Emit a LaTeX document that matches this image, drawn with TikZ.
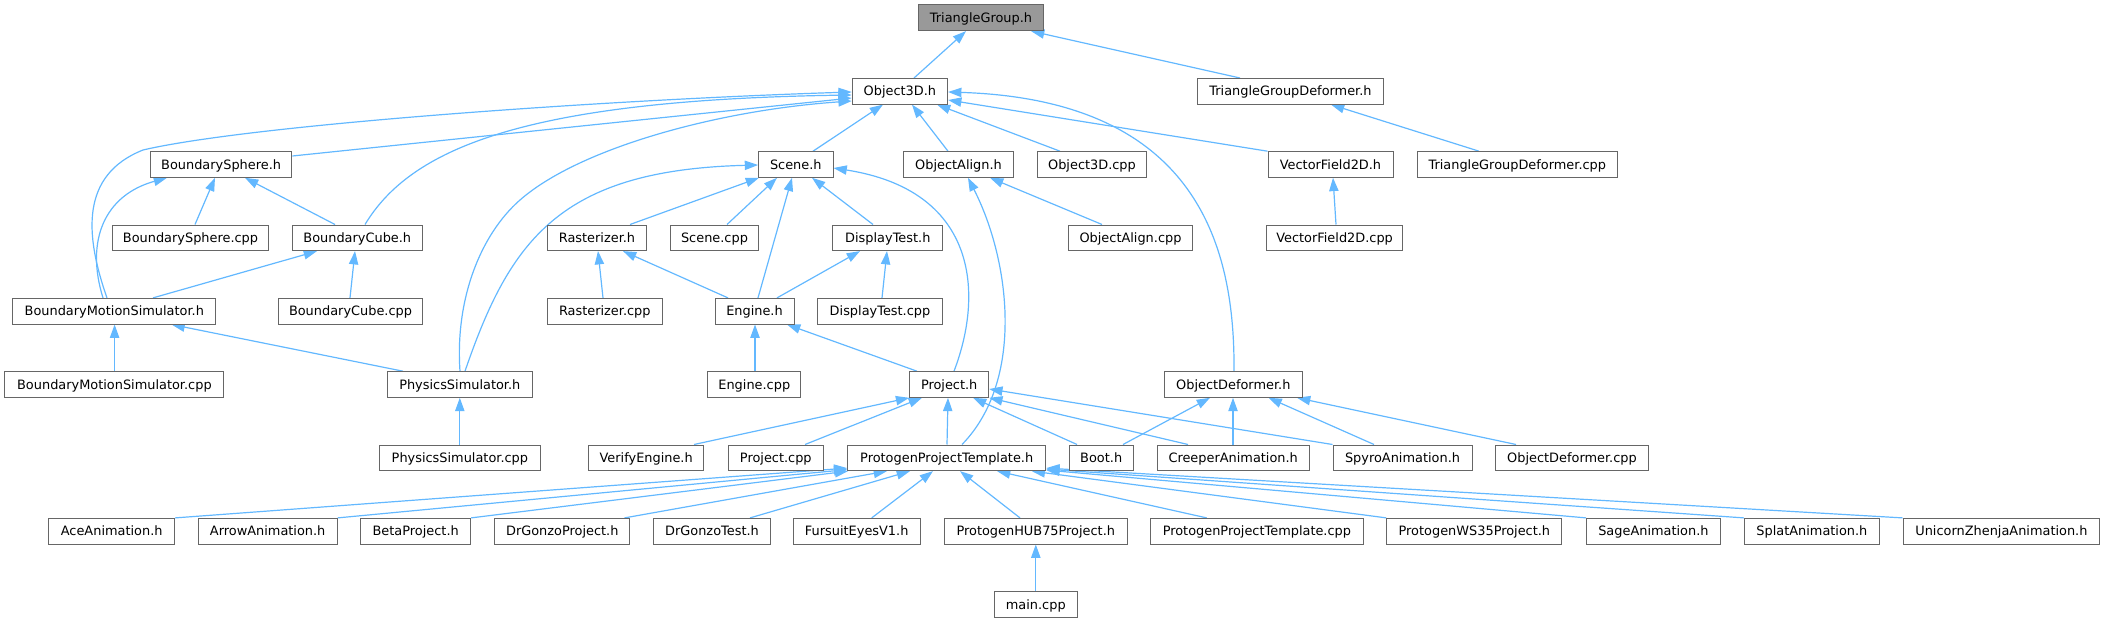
\documentclass[tikz,border=0pt]{standalone}
\usepackage{fontspec}
\setmainfont{DejaVu Sans}
\usetikzlibrary{arrows.meta}
\definecolor{edgeblue}{HTML}{63B8FF}
\definecolor{nodeborder}{HTML}{666666}
\definecolor{rootfill}{HTML}{999999}
\pgfdeclarelayer{edgelayer}
\pgfsetlayers{edgelayer,main}
\begin{document}
\begin{tikzpicture}[x=1pt,y=-1pt,
  box/.style={draw=nodeborder, line width=1pt, fill=white, minimum height=25.6pt,
    inner sep=0pt, text height=9.4pt, text depth=0pt,
    font=\fontsize{12.9}{15}\selectfont, anchor=center},
  root/.style={box, fill=rootfill},
  dep/.style={draw=edgeblue, line width=1.2pt, -{Triangle[length=13.3pt,width=9.3pt]}}]
\useasboundingbox (0,0) rectangle (2105,623);
% row 0
\node[root, minimum width=125pt] (tg) at (981,17.8) {TriangleGroup.h};
% row 1
\node[box, minimum width=95.4pt] (o3d) at (899.9,91.3) {Object3D.h};
\node[box, minimum width=186.2pt] (tgdh) at (1290.5,91.3) {TriangleGroupDeformer.h};
% row 2
\node[box, minimum width=141.5pt] (bsh) at (221.1,164.5) {BoundarySphere.h};
\node[box, minimum width=74.4pt] (sceneh) at (795.8,164.5) {Scene.h};
\node[box, minimum width=109.7pt] (oah) at (958.5,164.5) {ObjectAlign.h};
\node[box, minimum width=109.4pt] (o3dcpp) at (1092,164.5) {Object3D.cpp};
\node[box, minimum width=125pt] (vfh) at (1330.5,164.5) {VectorField2D.h};
\node[box, minimum width=200.6pt] (tgdcpp) at (1517.3,164.5) {TriangleGroupDeformer.cpp};
% row 3
\node[box, minimum width=156.3pt] (bscpp) at (190.5,237.8) {BoundarySphere.cpp};
\node[box, minimum width=130pt] (bch) at (357.3,237.8) {BoundaryCube.h};
\node[box, minimum width=99.3pt] (rasth) at (597,237.8) {Rasterizer.h};
\node[box, minimum width=88.3pt] (scenecpp) at (714.5,237.8) {Scene.cpp};
\node[box, minimum width=109.7pt] (dth) at (887.8,237.8) {DisplayTest.h};
\node[box, minimum width=124.3pt] (oacpp) at (1130.5,237.8) {ObjectAlign.cpp};
\node[box, minimum width=136pt] (vfcpp) at (1334.6,237.8) {VectorField2D.cpp};
% row 4
\node[box, minimum width=203.3pt] (bmsh) at (114.3,311.2) {BoundaryMotionSimulator.h};
\node[box, minimum width=144.4pt] (bccpp) at (350.5,311.2) {BoundaryCube.cpp};
\node[box, minimum width=115pt] (rastcpp) at (604.8,311.2) {Rasterizer.cpp};
\node[box, minimum width=79pt] (engh) at (754.5,311.2) {Engine.h};
\node[box, minimum width=124.7pt] (dtcpp) at (880,311.2) {DisplayTest.cpp};
% row 5
\node[box, minimum width=219pt] (bmscpp) at (114.4,384.5) {BoundaryMotionSimulator.cpp};
\node[box, minimum width=145pt] (psh) at (459.8,384.5) {PhysicsSimulator.h};
\node[box, minimum width=93.3pt] (engcpp) at (754.3,384.5) {Engine.cpp};
\node[box, minimum width=79pt] (projh) at (949.2,384.5) {Project.h};
\node[box, minimum width=138pt] (odh) at (1233.3,384.5) {ObjectDeformer.h};
% row 6
\node[box, minimum width=160.3pt] (pscpp) at (459.9,457.8) {PhysicsSimulator.cpp};
\node[box, minimum width=115pt] (veh) at (646.2,457.8) {VerifyEngine.h};
\node[box, minimum width=95pt] (projcpp) at (775.8,457.8) {Project.cpp};
\node[box, minimum width=198pt] (ppth) at (946.7,457.8) {ProtogenProjectTemplate.h};
\node[box, minimum width=64.3pt] (booth) at (1101.2,457.8) {Boot.h};
\node[box, minimum width=152.2pt] (creeper) at (1233.2,457.8) {CreeperAnimation.h};
\node[box, minimum width=139pt] (spyro) at (1402.5,457.8) {SpyroAnimation.h};
\node[box, minimum width=152.4pt] (odcpp) at (1572,457.8) {ObjectDeformer.cpp};
% row 7
\node[box, minimum width=125.8pt] (ace) at (111.7,531.2) {AceAnimation.h};
\node[box, minimum width=138.8pt] (arrow) at (267.7,531.2) {ArrowAnimation.h};
\node[box, minimum width=109.7pt] (beta) at (415.7,531.2) {BetaProject.h};
\node[box, minimum width=135.2pt] (drgp) at (562.3,531.2) {DrGonzoProject.h};
\node[box, minimum width=116.7pt] (drgt) at (712,531.2) {DrGonzoTest.h};
\node[box, minimum width=126.7pt] (fursuit) at (856.7,531.2) {FursuitEyesV1.h};
\node[box, minimum width=183pt] (hub75) at (1035.8,531.2) {ProtogenHUB75Project.h};
\node[box, minimum width=212.2pt] (pptcpp) at (1256.9,531.2) {ProtogenProjectTemplate.cpp};
\node[box, minimum width=175.1pt] (ws35) at (1474.4,531.2) {ProtogenWS35Project.h};
\node[box, minimum width=133.5pt] (sage) at (1653.4,531.2) {SageAnimation.h};
\node[box, minimum width=134.9pt] (splat) at (1811.9,531.2) {SplatAnimation.h};
\node[box, minimum width=196.5pt] (unicorn) at (2001.4,531.2) {UnicornZhenjaAnimation.h};
% row 8
\node[box, minimum width=82.4pt] (maincpp) at (1035.8,604.5) {main.cpp};

\begin{pgfonlayer}{edgelayer}
% ---- edges (child -> parent, arrow at parent) ----
\draw[dep] (914,0 |- o3d.north) -- (966,0 |- tg.south);
\draw[dep] (1240,0 |- tgdh.north) -- (1031,0 |- tg.south);
\draw[dep] (1479,0 |- tgdcpp.north) -- (1331,0 |- tgdh.south);
% into Object3D.h
\draw[dep] (bsh.east |- 0,156) -- (o3d.west |- 0,98);
\draw[dep] (107,0 |- bmsh.north) .. controls (85,235) and (80,175) .. (143,150)
  .. controls (250,125) and (600,100) .. (o3d.west |- 0,92);
\draw[dep] (365,0 |- bch.north) .. controls (410,150) and (520,100) .. (o3d.west |- 0,95);
\draw[dep] (460,0 |- psh.north) .. controls (455,300) and (480,235) .. (520,200)
  .. controls (580,147.5) and (720,110) .. (o3d.west |- 0,101);
\draw[dep] (813,0 |- sceneh.north) -- (883,0 |- o3d.south);
\draw[dep] (948,0 |- oah.north) -- (912,0 |- o3d.south);
\draw[dep] (1060,0 |- o3dcpp.north) -- (937,0 |- o3d.south);
\draw[dep] (vfh.north west) -- (o3d.east |- 0,100);
\draw[dep] (1234,0 |- odh.north) .. controls (1235,250) and (1200,100) .. (o3d.east |- 0,92);
% BoundarySphere.h
\draw[dep] (195,0 |- bscpp.north) -- (215,0 |- bsh.south);
\draw[dep] (335,0 |- bch.north) -- (245,0 |- bsh.south);
\draw[dep] (103,0 |- bmsh.north) .. controls (85,240) and (105,195) .. (167,0 |- bsh.south);
% BoundaryCube.h
\draw[dep] (153,0 |- bmsh.north) -- (317,0 |- bch.south);
\draw[dep] (350,0 |- bccpp.north) -- (355,0 |- bch.south);
% BoundaryMotionSimulator.h
\draw[dep] (114.6,0 |- bmscpp.north) -- (114.6,0 |- bmsh.south);
\draw[dep] (403,0 |- psh.north) -- (171.5,0 |- bmsh.south);
% PhysicsSimulator.h
\draw[dep] (459.8,0 |- pscpp.north) -- (459.8,0 |- psh.south);
% Scene.h
\draw[dep] (465,0 |- psh.north) .. controls (510,240) and (560,170) .. (sceneh.west |- 0,165);
\draw[dep] (630,0 |- rasth.north) -- (759,0 |- sceneh.south);
\draw[dep] (727,0 |- scenecpp.north) -- (777,0 |- sceneh.south);
\draw[dep] (758,0 |- engh.north) -- (792,0 |- sceneh.south);
\draw[dep] (873,0 |- dth.north) -- (812,0 |- sceneh.south);
\draw[dep] (954,0 |- projh.north) .. controls (985,290) and (975,190) .. (sceneh.east |- 0,168);
% Rasterizer.h, DisplayTest.h, Engine.h
\draw[dep] (603,0 |- rastcpp.north) -- (598,0 |- rasth.south);
\draw[dep] (728,0 |- engh.north) -- (623,0 |- rasth.south);
\draw[dep] (777,0 |- engh.north) -- (860,0 |- dth.south);
\draw[dep] (882,0 |- dtcpp.north) -- (887,0 |- dth.south);
\draw[dep] (755,0 |- engcpp.north) -- (755,0 |- engh.south);
\draw[dep] (917,0 |- projh.north) -- (787,0 |- engh.south);
% ObjectAlign.h, VectorField2D.h
\draw[dep] (1102,0 |- oacpp.north) -- (990,0 |- oah.south);
\draw[dep] (962,0 |- ppth.north) .. controls (1025,380) and (1010,260) .. (968,0 |- oah.south);
\draw[dep] (1336,0 |- vfcpp.north) -- (1333,0 |- vfh.south);
% Project.h
\draw[dep] (694,0 |- veh.north) -- (projh.south west);
\draw[dep] (805,0 |- projcpp.north) -- (922,0 |- projh.south);
\draw[dep] (947,0 |- ppth.north) -- (948,0 |- projh.south);
\draw[dep] (1077,0 |- booth.north) -- (973,0 |- projh.south);
\draw[dep] (1188,0 |- creeper.north) -- (projh.south east);
\draw[dep] (spyro.north west) -- (projh.east |- 0,389);
% ObjectDeformer.h
\draw[dep] (1123,0 |- booth.north) -- (1210,0 |- odh.south);
\draw[dep] (1233,0 |- creeper.north) -- (1233,0 |- odh.south);
\draw[dep] (1374,0 |- spyro.north) -- (1268.5,0 |- odh.south);
\draw[dep] (1516,0 |- odcpp.north) -- (1297,0 |- odh.south);
% ProtogenProjectTemplate.h
\draw[dep] (ace.north east) -- ([yshift=3pt]ppth.south west);
\draw[dep] (arrow.north east) -- ([yshift=1.5pt]ppth.south west);
\draw[dep] (beta.north east) -- ([xshift=1pt]ppth.south west);
\draw[dep] (624.5,0 |- drgp.north) -- (887,0 |- ppth.south);
\draw[dep] (750,0 |- drgt.north) -- (910,0 |- ppth.south);
\draw[dep] (871.7,0 |- fursuit.north) -- (933,0 |- ppth.south);
\draw[dep] (1020,0 |- hub75.north) -- (960,0 |- ppth.south);
\draw[dep] (1206.7,0 |- pptcpp.north) -- (997,0 |- ppth.south);
\draw[dep] (ws35.north west) -- (1031.7,0 |- ppth.south);
\draw[dep] (sage.north west) -- ([yshift=1pt]ppth.south east);
\draw[dep] (splat.north west) -- ([yshift=2pt]ppth.south east);
\draw[dep] (unicorn.north west) -- ([yshift=3pt]ppth.south east);
% ProtogenHUB75Project.h
\draw[dep] (maincpp.north) -- (hub75.south);
\end{pgfonlayer}
\end{tikzpicture}
\end{document}
